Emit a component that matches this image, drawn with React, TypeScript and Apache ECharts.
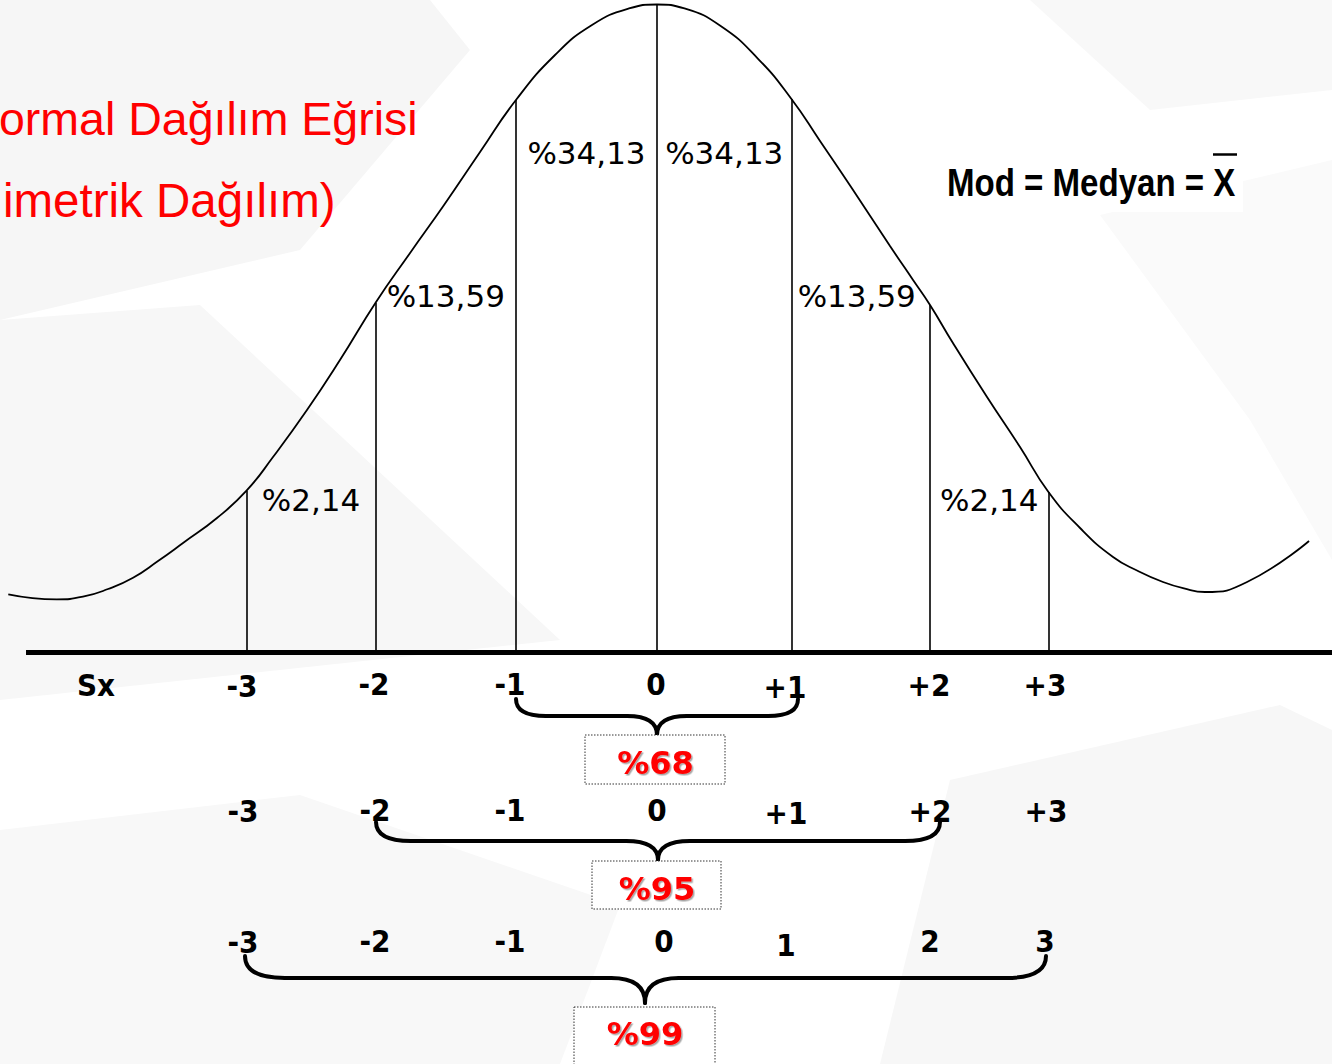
import React, { useEffect, useRef } from "react";
import * as echarts from "echarts";

// ---- data ----
// x in sigma-like units (0 = mean), y in percent of the curve area height above the baseline
const curveX = [-4.7, -4.349, -4.159, -3.977, -3.796, -3.615, -3.434, -3.188, -2.974, -2.782, -2.536, -2.297, -2.039, -1.789, -1.543, -1.282, -1.022, -0.739, -0.471, -0.203, 0, 0.199, 0.464, 0.732, 0.974, 1.181, 1.406, 1.688, 1.855, 1.978, 2.144, 2.391, 2.63, 2.836, 3.065, 3.304, 3.485, 3.666, 3.818, 3.97, 4.275, 4.724];
const curveY = [8.92, 8.15, 8.55, 9.73, 11.46, 14.02, 16.78, 20.61, 24.8, 29.96, 37.16, 44.83, 53.61, 61.23, 68.58, 76.7, 84.67, 91.57, 96.17, 98.7, 99.31, 98.7, 95.97, 90.99, 84.83, 78.39, 71.34, 62.3, 57.09, 53.26, 47.43, 39.16, 31.49, 24.6, 19.08, 14.64, 12.49, 10.8, 9.81, 9.27, 10.8, 17.09];
const baselineX = [-4.5715, 4.8903];
const boundaryX = [-2.974, -2.039, -1.022, 0, 0.974, 1.978, 2.836];
const boundaryH = [24.8, 53.61, 84.67, 99.31, 84.83, 53.26, 24.6];
const areaPercents = ["%2,14", "%13,59", "%34,13", "%34,13", "%13,59", "%2,14"];
const row1Labels = ["Sx", "-3", "-2", "-1", "0", "+1", "+2", "+3"];
const row2Labels = ["-3", "-2", "-1", "0", "+1", "+2", "+3"];
const row3Labels = ["-3", "-2", "-1", "0", "1", "2", "3"];
const rangePercents = ["%68", "%95", "%99"];
// the slide's title runs off the left edge; only the visible part is drawn
const titleLines = ["ormal Dağılım Eğrisi", "imetrik Dağılım)"];
const formulaText = "Mod = Medyan = X";

// ---- layout (pixels) ----
const W = 1332;
const H = 1064;
const BASE_Y = 652.5;
const X_MIN = -4.76;
const X_MAX = 4.8903;
const areaLabelY = [500, 295.5, 153, 153, 295.5, 500];
const areaLabelShift = [0, 0, 0, 0, -4, 0];
const row1X = [96, 242, 374, 510, 656, 785, 929, 1045];
const row1Y = [685, 686, 684, 684, 684, 687, 685, 685];
const row2X = [243, 375, 510, 657, 786, 930, 1046];
const row2Y = [811, 810, 810, 810, 813, 811, 811];
const row3X = [243, 375, 510, 664, 786, 930, 1045];
const row3Y = [942, 941, 941, 941, 945, 941, 941];
const braces = [
  { x0: 516, x1: 798, xm: 657, yTop: 699, yMid: 716, yTip: 735, endW: 30, midW: 30 },
  { x0: 376, x1: 940, xm: 658, yTop: 822, yMid: 841, yTip: 860, endW: 35, midW: 32 },
  { x0: 245, x1: 1046, xm: 645, yTop: 956, yMid: 978, yTip: 1003, endW: 40, midW: 34 },
];
const boxes = [
  { x: 585, y: 735, w: 140, h: 49, tx: 655.5, ty: 762.5 },
  { x: 592, y: 861, w: 129, h: 48, tx: 657, ty: 889 },
  { x: 574, y: 1007, w: 141, h: 62, tx: 645, ty: 1034 },
];

const bgPolys = [
  { pts: [[0, 0], [430, 0], [470, 50], [300, 250], [0, 320]], fill: "#f6f6f6" },
  { pts: [[0, 320], [200, 305], [560, 640], [0, 700]], fill: "#f7f7f7" },
  { pts: [[0, 830], [300, 795], [620, 905], [560, 1064], [0, 1064]], fill: "#f8f8f8" },
  { pts: [[950, 780], [1280, 705], [1332, 730], [1332, 1064], [880, 1064]], fill: "#f7f7f7" },
  { pts: [[1030, 0], [1332, 0], [1332, 90], [1150, 110]], fill: "#f8f8f8" },
  { pts: [[1100, 215], [1332, 160], [1332, 560], [1250, 420]], fill: "#fafafa" },
];

function braceElements(b: any) {
  const st = { stroke: "#000", lineWidth: 4, fill: "none", lineCap: "round" };
  return [
    { type: "bezierCurve", z: 20, shape: { x1: b.x0, y1: b.yTop, cpx1: b.x0, cpy1: b.yMid, x2: b.x0 + b.endW, y2: b.yMid }, style: st },
    { type: "line", z: 20, shape: { x1: b.x0 + b.endW, y1: b.yMid, x2: b.xm - b.midW, y2: b.yMid }, style: st },
    { type: "bezierCurve", z: 20, shape: { x1: b.xm - b.midW, y1: b.yMid, cpx1: b.xm, cpy1: b.yMid, x2: b.xm, y2: b.yTip }, style: st },
    { type: "bezierCurve", z: 20, shape: { x1: b.xm + b.midW, y1: b.yMid, cpx1: b.xm, cpy1: b.yMid, x2: b.xm, y2: b.yTip }, style: st },
    { type: "line", z: 20, shape: { x1: b.xm + b.midW, y1: b.yMid, x2: b.x1 - b.endW, y2: b.yMid }, style: st },
    { type: "bezierCurve", z: 20, shape: { x1: b.x1 - b.endW, y1: b.yMid, cpx1: b.x1, cpy1: b.yMid, x2: b.x1, y2: b.yTop }, style: st },
  ];
}

function txt(text: string, x: number, y: number, o: any) {
  return {
    type: "text",
    z: 30,
    x,
    y,
    scaleX: o.scaleX ?? 1,
    style: {
      text,
      fill: o.fill ?? "#000",
      fontSize: o.fontSize,
      fontFamily: o.fontFamily,
      fontWeight: o.fontWeight ?? "normal",
      textAlign: o.align ?? "center",
      align: o.align ?? "center",
      textVerticalAlign: "middle",
      verticalAlign: "middle",
      textShadowColor: o.shadow ? "rgba(0,0,0,0.35)" : undefined,
      textShadowBlur: o.shadow ? 1 : 0,
      textShadowOffsetX: o.shadow ? 1.5 : 0,
      textShadowOffsetY: o.shadow ? 1.5 : 0,
    },
  };
}

export default function App() {
  const ref = useRef<HTMLDivElement>(null);
  useEffect(() => {
    document.body.style.margin = "0";
    const chart = echarts.init(ref.current!, null, { renderer: "svg" });
    const option: any = {
      animation: false,
      backgroundColor: "#ffffff",
      grid: { left: 0, right: 0, top: 0, bottom: H - BASE_Y },
      xAxis: {
        type: "value",
        min: X_MIN,
        max: X_MAX,
        show: false,
        splitLine: { show: false },
      },
      yAxis: {
        type: "value",
        min: 0,
        max: 100,
        show: false,
        splitLine: { show: false },
      },
      series: [
        {
          type: "line",
          data: baselineX.map((x) => [x, 0]),
          symbol: "none",
          clip: false,
          z: 6,
          silent: true,
          lineStyle: { color: "#000", width: 5 },
        },
        {
          type: "line",
          data: curveX.map((x, i) => [x, curveY[i]]),
          smooth: 0.5,
          symbol: "none",
          clip: false,
          z: 5,
          lineStyle: { color: "#000", width: 1.8 },
          markLine: {
            silent: true,
            symbol: ["none", "none"],
            label: { show: false },
            lineStyle: { color: "#000", width: 1.6, type: "solid" },
            data: boundaryX.map((x, i) => [{ coord: [x, 0] }, { coord: [x, boundaryH[i]] }]),
          },
        },
      ],
    };
    chart.setOption(option);

    const px = (v: number) => (chart.convertToPixel({ xAxisIndex: 0, yAxisIndex: 0 }, [v, 0]) as number[])[0];

    const g: any[] = [];
    bgPolys.forEach((p) => g.push({ type: "polygon", z: -10, silent: true, shape: { points: p.pts }, style: { fill: p.fill } }));

    // title (visible part)
    g.push(txt(titleLines[0], -1, 119, { fontSize: 46.5, fontFamily: "Liberation Sans, Arial", fill: "#ff0000", align: "left" }));
    g.push(txt(titleLines[1], 3, 200.5, { fontSize: 47.5, fontFamily: "Liberation Sans, Arial", fill: "#ff0000", align: "left" }));

    // formula box
    g.push({ type: "rect", z: 25, shape: { x: 938, y: 145, width: 305, height: 67 }, style: { fill: "#ffffff" } });
    g.push(txt(formulaText, 947, 183, { fontSize: 38, fontFamily: "Liberation Sans, Arial", fontWeight: "bold", align: "left", scaleX: 0.87 }));
    g.push({ type: "line", z: 30, shape: { x1: 1213, y1: 154.5, x2: 1237, y2: 154.5 }, style: { stroke: "#000", lineWidth: 2.5 } });

    // area percentages
    areaPercents.forEach((t, i) => {
      const cx = (px(boundaryX[i]) + px(boundaryX[i + 1])) / 2 + areaLabelShift[i];
      g.push(txt(t, cx, areaLabelY[i], { fontSize: 31, fontFamily: "DejaVu Sans, Verdana" }));
    });

    // sigma rows
    const rowFont = { fontSize: 31, fontFamily: "DejaVu Sans, Verdana", fontWeight: "bold", scaleX: 0.9 };
    row1Labels.forEach((t, i) => g.push(txt(t, row1X[i], row1Y[i], rowFont)));
    row2Labels.forEach((t, i) => g.push(txt(t, row2X[i], row2Y[i], rowFont)));
    row3Labels.forEach((t, i) => g.push(txt(t, row3X[i], row3Y[i], rowFont)));

    // braces
    braces.forEach((b) => braceElements(b).forEach((e) => g.push(e)));

    // boxes with range percentages
    boxes.forEach((b, i) => {
      g.push({ type: "rect", z: 22, shape: { x: b.x, y: b.y, width: b.w, height: b.h }, style: { fill: "#ffffff", stroke: "#333", lineWidth: 1, lineDash: [1.5, 1.5] } });
      g.push(txt(rangePercents[i], b.tx, b.ty, { fontSize: 32, fontFamily: "DejaVu Sans, Verdana", fontWeight: "bold", fill: "#ff0000", shadow: true }));
    });

    chart.setOption({ graphic: { elements: g } });
    return () => chart.dispose();
  }, []);
  return <div ref={ref} style={{ width: W, height: H }} />;
}
